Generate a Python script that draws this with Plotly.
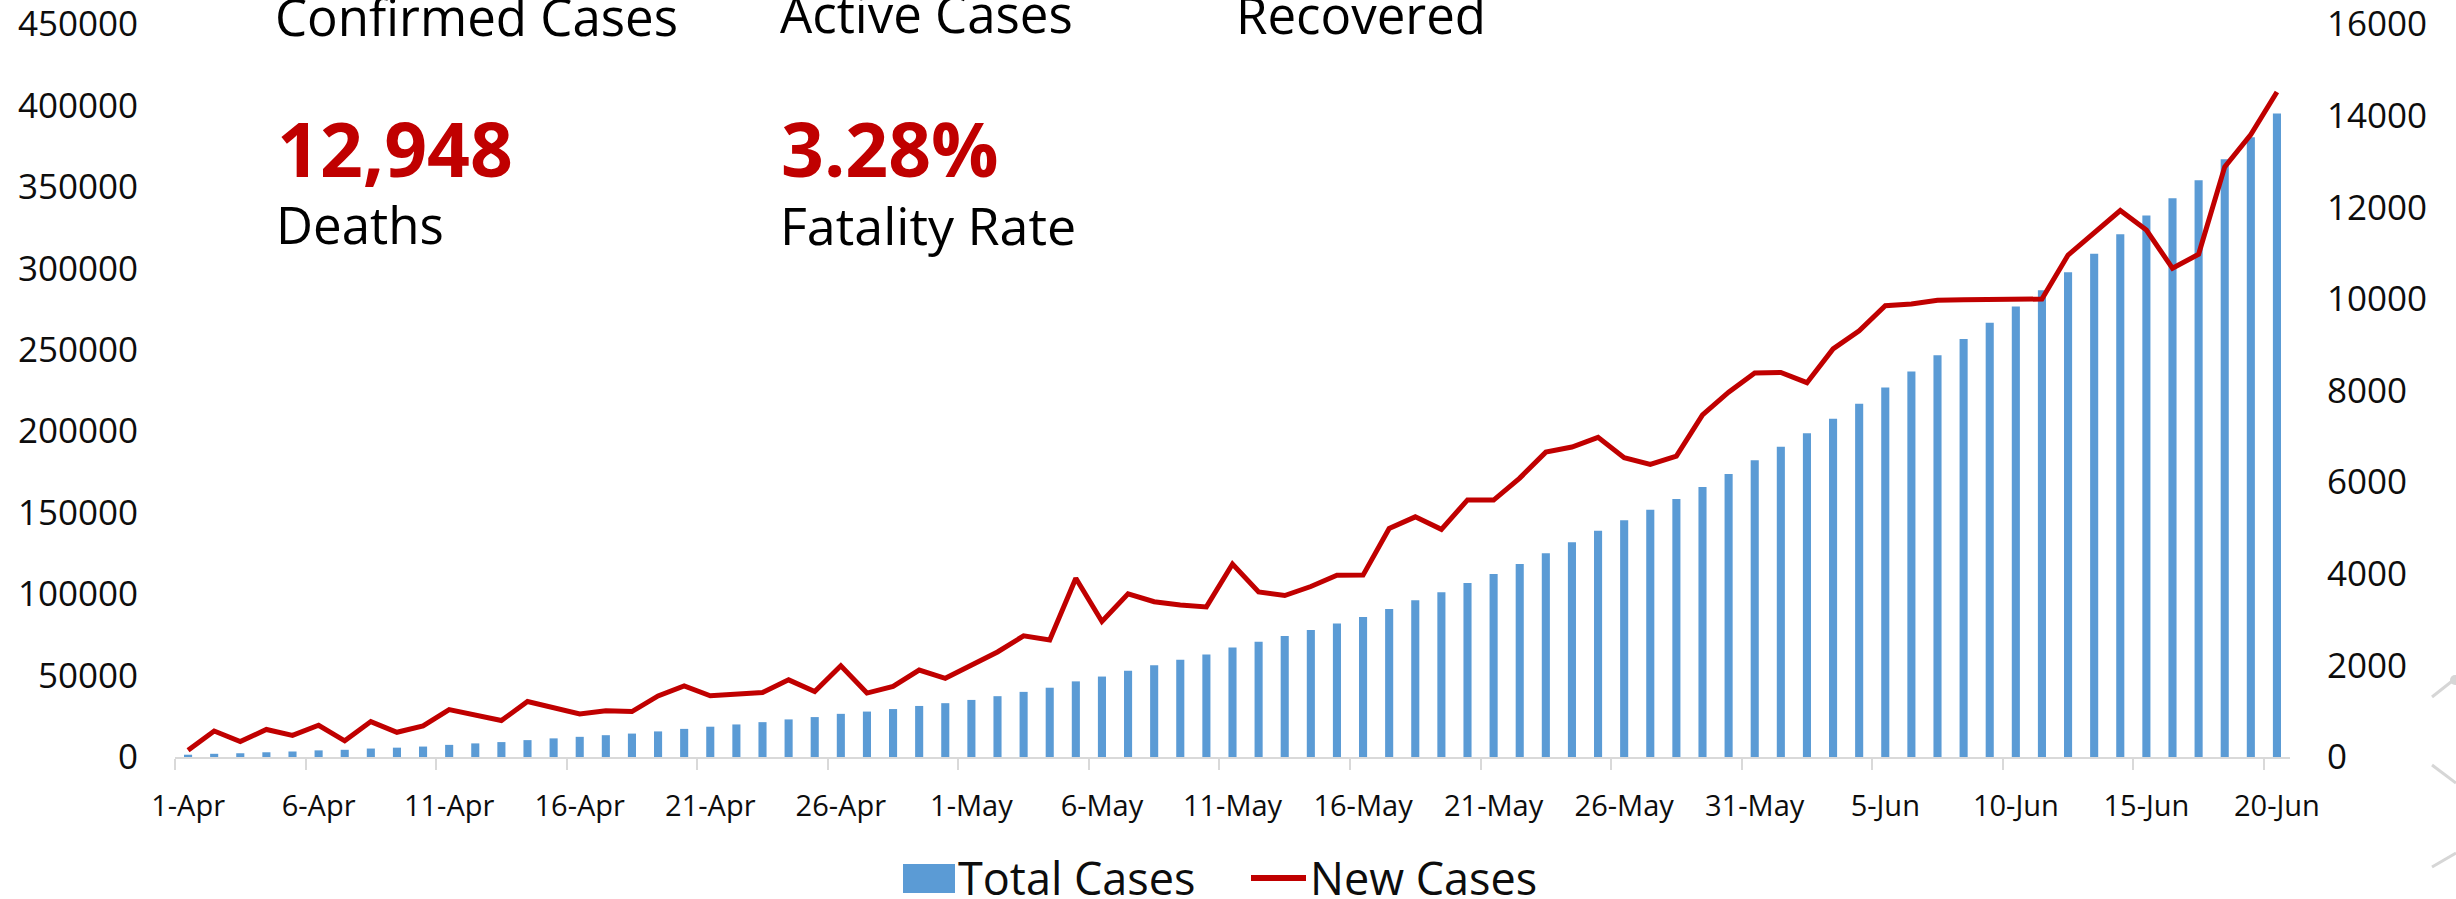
import datetime as dt
import plotly.graph_objects as go

# ---------------- data ----------------
start = dt.date(2020, 4, 1)
dates = [f"{(start + dt.timedelta(days=i)).day}-{(start + dt.timedelta(days=i)).strftime('%b')}" for i in range(81)]

total_cases = [
    1397, 1965, 2301, 2902, 3374, 4067, 4421, 5194, 5734, 6412,
    7447, 8356, 9152, 10363, 11439, 12380, 13387, 14378, 15712, 17265,
    18601, 19984, 21393, 23077, 24506, 26496, 27892, 29435, 31332, 33050,
    35043, 37336, 39980, 42533, 46433, 49391, 52952, 56342, 59662, 62939,
    67152, 70756, 74281, 78003, 81970, 85940, 90927, 96169, 101139, 106750,
    112359, 118447, 125101, 131868, 138845, 145380, 151767, 158333, 165799, 173763,
    182143, 190535, 198706, 207615, 216919, 226770, 236657, 246628, 256611, 266598,
    276583, 286579, 297535, 308993, 320922, 332424, 343091, 354065, 366946, 380532,
    395048,
]

new_cases = [
    146, 568, 336, 601, 472, 693, 354, 773, 540, 678,
    1035, 909, 796, 1211, 1076, 941, 1007, 991, 1334, 1553,
    1336, 1383, 1409, 1684, 1429, 1990, 1396, 1543, 1897, 1718,
    1993, 2293, 2644, 2553, 3900, 2958, 3561, 3390, 3320, 3277,
    4213, 3604, 3525, 3722, 3967, 3970, 4987, 5242, 4970, 5611,
    5609, 6088, 6654, 6767, 6977, 6535, 6387, 6566, 7466, 7964,
    8380, 8392, 8171, 8909, 9304, 9851, 9887, 9971, 9983, 9987,
    9985, 9996, 10956, 11458, 11929, 11502, 10667, 10974, 12881, 13586,
    14516,
]

left_ticks = [0, 50000, 100000, 150000, 200000, 250000, 300000, 350000, 400000, 450000]
right_ticks = [0, 2000, 4000, 6000, 8000, 10000, 12000, 14000, 16000]

headline_labels = ["Confirmed Cases", "Active Cases", "Recovered"]
stat_values = ["12,948", "3.28%"]
stat_labels = ["Deaths", "Fatality Rate"]
legend_names = ["Total Cases", "New Cases"]

# ---------------- layout geometry (pixels) ----------------
W, H = 2456, 899
L, R, T, B = 175, 2290, 24, 757
PW, PH = R - L, B - T

def px(x):
    return (x - L) / PW

def py(y):
    return (B - y) / PH

FONT = "Open Sans"
BLUE = "#5B9BD5"
RED = "#C00000"
TXT = "#0d0d0d"
AXC = "#D9D9D9"

# category positions on the x scale (one slot per date)
pos = list(range(len(dates)))
label_pos = pos[::5]
boundary_pos = [p - 0.5 for p in label_pos]
xrange_ = [-0.5, len(dates) - 0.5]

fig = go.Figure()
fig.add_trace(go.Bar(
    x=pos, y=total_cases, name=legend_names[0], customdata=dates,
    marker=dict(color=BLUE, line=dict(width=0)), xaxis="x", yaxis="y",
))
fig.add_trace(go.Scatter(
    x=pos, y=new_cases, name=legend_names[1], mode="lines", customdata=dates,
    line=dict(color=RED, width=5), xaxis="x2", yaxis="y2",
))

fig.update_layout(
    width=W, height=H,
    margin=dict(l=L, r=W - R, t=T, b=H - B, pad=0, autoexpand=False),
    paper_bgcolor="white", plot_bgcolor="white",
    showlegend=False,
    bargap=0.69,
    font=dict(family=FONT, color=TXT),
    # axis carrying the tick marks at category boundaries
    xaxis=dict(
        type="linear", range=xrange_,
        tickmode="array", tickvals=boundary_pos, showticklabels=False,
        ticks="outside", ticklen=11, tickwidth=2, tickcolor=AXC,
        showline=True, linecolor=AXC, linewidth=2,
        showgrid=False, zeroline=False, automargin=False,
    ),
    # axis carrying the date labels at category centres
    xaxis2=dict(
        type="linear", range=xrange_, overlaying="x", side="bottom", anchor="y2",
        tickmode="array", tickvals=label_pos, ticktext=dates[::5],
        ticks="", showline=False, showgrid=False, zeroline=False,
        automargin=False, tickangle=0,
        tickfont=dict(size=29, color=TXT, family=FONT),
        ticklabelstandoff=29, ticklabeloverflow="allow",
    ),
    yaxis=dict(
        range=[0, 450000.5], tickmode="array", tickvals=left_ticks, tickformat="d",
        showgrid=False, zeroline=False, showline=False, ticks="", automargin=False,
        tickfont=dict(size=35, color=TXT, family=FONT),
        ticklabelstandoff=36, ticklabeloverflow="allow",
    ),
    yaxis2=dict(
        range=[0, 16000.02], tickmode="array", tickvals=right_ticks, tickformat="d",
        overlaying="y", side="right", anchor="x2", automargin=False,
        showgrid=False, zeroline=False, showline=False, ticks="",
        tickfont=dict(size=35, color=TXT, family=FONT),
        ticklabelstandoff=36, ticklabeloverflow="allow",
    ),
)

ann = []
def add_text(text, x, y, size, color="#000000", bold=False):
    t = f"<b>{text}</b>" if bold else text
    ann.append(dict(
        text=t, xref="paper", yref="paper", x=px(x), y=py(y),
        xanchor="left", yanchor="middle", showarrow=False, borderpad=0,
        font=dict(family=FONT, size=size, color=color),
    ))

add_text(headline_labels[0], 274, 16, 51)
add_text(headline_labels[1], 779, 13, 51)
add_text(headline_labels[2], 1235, 14, 51)
add_text(stat_values[0], 276, 148, 75, RED, True)
add_text(stat_values[1], 780, 148, 75, RED, True)
add_text(stat_labels[0], 275, 224, 51)
add_text(stat_labels[1], 779, 224, 52)
add_text(legend_names[0], 957, 877, 45, TXT)
add_text(legend_names[1], 1309, 877, 45, TXT)

shapes = [
    dict(type="rect", xref="paper", yref="paper",
         x0=px(903), x1=px(955), y0=py(893), y1=py(864),
         fillcolor=BLUE, line=dict(width=0)),
    dict(type="line", xref="paper", yref="paper",
         x0=px(1251), x1=px(1306), y0=py(878), y1=py(878),
         line=dict(color=RED, width=6)),
    # faint decorative lines at the right edge
    dict(type="line", xref="paper", yref="paper",
         x0=px(2432), x1=px(2456), y0=py(697), y1=py(678),
         line=dict(color="#D6D6D6", width=3)),
    dict(type="line", xref="paper", yref="paper",
         x0=px(2432), x1=px(2456), y0=py(765), y1=py(783),
         line=dict(color="#D6D6D6", width=3)),
    dict(type="line", xref="paper", yref="paper",
         x0=px(2432), x1=px(2456), y0=py(867), y1=py(853),
         line=dict(color="#D6D6D6", width=3)),
    dict(type="circle", xref="paper", yref="paper",
         x0=px(2450), x1=px(2460), y0=py(685), y1=py(675),
         fillcolor="#D6D6D6", line=dict(width=0)),
]

fig.update_layout(annotations=ann, shapes=shapes)
fig.write_html("out.html", config={"displayModeBar": False},
               post_script="document.body.style.margin='0px';")
